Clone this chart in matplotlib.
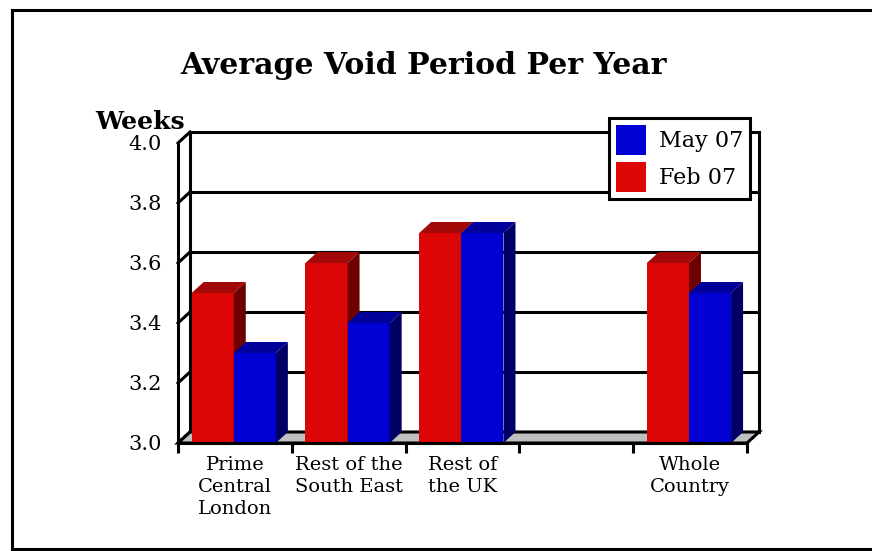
import matplotlib
matplotlib.use("Agg")
import matplotlib.pyplot as plt
from matplotlib.patches import Polygon, Patch
from matplotlib.lines import Line2D
import numpy as np

# ---- data -------------------------------------------------------------
categories = ["Prime\nCentral\nLondon", "Rest of the\nSouth East", "Rest of\nthe UK", "", "Whole\nCountry"]
feb07 = [3.5, 3.6, 3.7, np.nan, 3.6]
may07 = [3.3, 3.4, 3.7, np.nan, 3.5]
ytick_values = [3.0, 3.2, 3.4, 3.6, 3.8, 4.0]
ytick_labels = ["3.0", "3.2", "3.4", "3.6", "3.8", "4.0"]
title_text = "Average Void Period Per Year"
ylabel_text = "Weeks"

# ---- styling ----------------------------------------------------------
SERIF = "DejaVu Serif"
red_faces = ("#dc0606", "#a30808", "#6e0000")    # front, top, side
blue_faces = ("#0000d2", "#00009a", "#000064")
floor_color = "#c0c0c0"
LW = 2.2

W, H = 872, 551
fig = plt.figure(figsize=(W / 100, H / 100), dpi=100)
fig.patch.set_facecolor("white")

# plot area: front plane of the 3-D box
x0_px, x1_px, y0_px, y1_px = 178, 747, 443, 143
ax = fig.add_axes([x0_px / W, (H - y0_px) / H, (x1_px - x0_px) / W, (y0_px - y1_px) / H])
n = len(categories)
ymin, ymax = 3.0, 4.0
ax.set_xlim(0, n)
ax.set_ylim(ymin, ymax)
for s in ax.spines.values():
    s.set_visible(False)
ax.patch.set_visible(False)

# depth offset of the 3-D effect, in data units
dx = 12 / ((x1_px - x0_px) / n)
dy = 11 / (y0_px - y1_px) * (ymax - ymin)

kw = dict(clip_on=False)

# back wall
ax.add_patch(Polygon([(dx, ymin + dy), (n + dx, ymin + dy), (n + dx, ymax + dy), (dx, ymax + dy)],
                     closed=True, facecolor="white", edgecolor="none", zorder=0, **kw))
for v in ytick_values:
    ax.plot([dx, n + dx], [v + dy, v + dy], color="black", lw=LW, zorder=1, **kw)
    ax.plot([0, dx], [v, v + dy], color="black", lw=LW, zorder=1, **kw)
ax.plot([dx, dx], [ymin + dy, ymax + dy], color="black", lw=LW, zorder=1, **kw)
ax.plot([n + dx, n + dx], [ymin + dy, ymax + dy], color="black", lw=LW, zorder=1, **kw)
ax.plot([0, 0], [ymin, ymax], color="black", lw=LW, zorder=5, **kw)

# floor
ax.add_patch(Polygon([(0, ymin), (n, ymin), (n + dx, ymin + dy), (dx, ymin + dy)],
                     closed=True, facecolor=floor_color, edgecolor="black", lw=LW,
                     joinstyle="miter", zorder=2, **kw))


def bar3d(x_left, width, value, faces, z):
    if np.isnan(value):
        return
    front, top, side = faces
    xr = x_left + width
    ax.add_patch(Polygon([(x_left, ymin), (xr, ymin), (xr, value), (x_left, value)],
                         closed=True, facecolor=front, edgecolor="none", zorder=z, **kw))
    ax.add_patch(Polygon([(x_left, value), (xr, value), (xr + dx, value + dy), (x_left + dx, value + dy)],
                         closed=True, facecolor=top, edgecolor="none", zorder=z, **kw))
    ax.add_patch(Polygon([(xr, ymin), (xr + dx, ymin + dy), (xr + dx, value + dy), (xr, value)],
                         closed=True, facecolor=side, edgecolor="none", zorder=z, **kw))


bar_w = 0.37
offset = 0.12
for i in range(n):
    bar3d(i + offset, bar_w, feb07[i], red_faces, 3)
    bar3d(i + offset + bar_w, bar_w, may07[i], blue_faces, 4)

# front baseline
ax.plot([0, n], [ymin, ymin], color="black", lw=LW, zorder=6, solid_capstyle="projecting", **kw)

# ticks and labels
ax.set_yticks(ytick_values, ytick_labels)
ax.tick_params(axis="y", length=0, pad=11.5, labelsize=15)
ax.set_xticks(np.arange(n) + 0.5, categories)
ax.set_xticks(np.arange(n + 1), minor=True)
ax.tick_params(axis="x", which="major", length=0, pad=9, labelsize=14)
ax.tick_params(axis="x", which="minor", length=7, width=LW, direction="out", color="black")
for lab in ax.get_xticklabels() + ax.get_yticklabels():
    lab.set_family(SERIF)
for lab in ax.get_xticklabels():
    lab.set_linespacing(1.3)

# title and axis caption
fig.text(423 / W, 1 - 65 / H, title_text, ha="center", va="center",
         family=SERIF, fontweight="bold", fontsize=21.5)
fig.text(95 / W, 1 - 122 / H, ylabel_text, ha="left", va="center",
         family=SERIF, fontweight="bold", fontsize=18)

# legend
handles = [Patch(facecolor=blue_faces[0], edgecolor="none"),
           Patch(facecolor=red_faces[0], edgecolor="none")]
leg = fig.legend(handles, ["May 07", "Feb 07"], loc="upper left",
                 bbox_to_anchor=(609 / W, 1 - 118 / H),
                 prop={"family": SERIF, "size": 16}, frameon=True, fancybox=False,
                 framealpha=1.0, handlelength=1.36, handleheight=1.72,
                 handletextpad=0.55, labelspacing=0.3, borderpad=0.32, borderaxespad=0)
leg.get_frame().set_edgecolor("black")
leg.get_frame().set_linewidth(LW)
leg.set_zorder(20)

# outer frame
frame_kw = dict(color="black", lw=2.2, transform=fig.transFigure)
fig.add_artist(Line2D([12 / W, 12 / W], [1 - 10 / H, 1 - 549 / H], **frame_kw))
fig.add_artist(Line2D([12 / W, 1.0], [1 - 10 / H, 1 - 10 / H], **frame_kw))
fig.add_artist(Line2D([12 / W, 1.0], [1 - 549 / H, 1 - 549 / H], **frame_kw))

fig.savefig("out.png", dpi=100)
